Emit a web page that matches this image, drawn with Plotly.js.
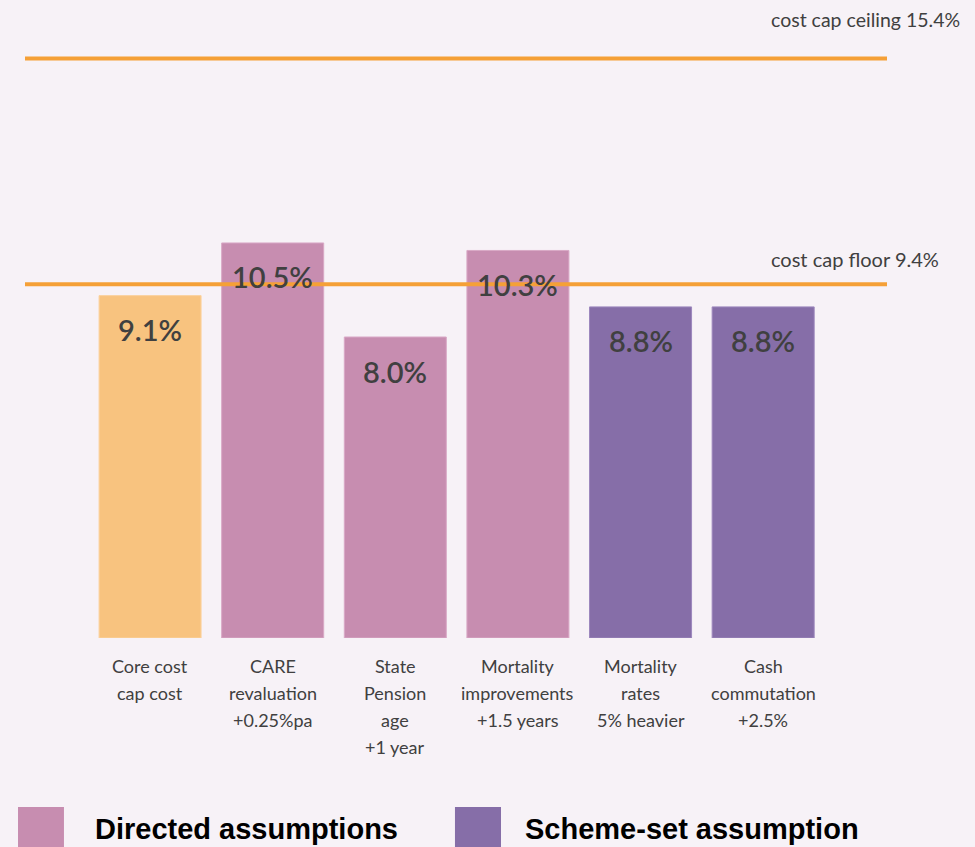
<!DOCTYPE html>
<html>
<head>
<meta charset="utf-8">
<script src="https://cdn.plot.ly/plotly-3.0.1.min.js"></script>
<style>html,body{margin:0;padding:0;background:#f7f2f7;}</style>
</head>
<body>
<div id="chart" style="width:975px;height:847px;"></div>
<script>
const categories = ["Core cost cap cost", "CARE revaluation +0.25%pa", "State Pension age +1 year", "Mortality improvements +1.5 years", "Mortality rates 5% heavier", "Cash commutation +2.5%"];
const tickLines = [["Core cost", "cap cost"], ["CARE", "revaluation", "+0.25%pa"], ["State", "Pension", "age", "+1 year"], ["Mortality", "improvements", "+1.5 years"], ["Mortality", "rates", "5% heavier"], ["Cash", "commutation", "+2.5%"]];
const values = [9.1, 10.5, 8.0, 10.3, 8.8, 8.8];
const valueLabels = ["9.1%", "10.5%", "8.0%", "10.3%", "8.8%", "8.8%"];
const groups = ["core", "directed", "directed", "directed", "scheme", "scheme"];
const thresholdValues = [15.4, 9.4];
const thresholdLabels = ["cost cap ceiling 15.4%", "cost cap floor 9.4%"];
const legendGroups = ["directed", "scheme"];
const legendLabels = ["Directed assumptions", "Scheme-set assumption"];

const groupColors = {core: "#f8c37f", directed: "#c78db0", scheme: "#866ea8"};
const groupLines = {core: "#fbd3a0", directed: "#d9a9c6", scheme: "#9d88bd"};

const trace = {
  type: "bar",
  x: categories,
  y: values,
  width: 0.832,
  marker: {
    color: groups.map(g => groupColors[g]),
    line: {color: groups.map(g => groupLines[g]), width: 1}
  },
  hoverinfo: "skip",
  showlegend: false
};

const annotations = [];
// value labels
categories.forEach((c, i) => {
  annotations.push({
    x: c, y: values[i], xref: "x", yref: "y",
    text: valueLabels[i], showarrow: false,
    yanchor: "middle", xanchor: "center", yshift: -34,
    font: {family: "Lato, 'Open Sans', sans-serif", size: 29, color: "#404040", weight: 600}
  });
});
// category labels (one annotation per line)
categories.forEach((c, i) => {
  tickLines[i].forEach((line, j) => {
    annotations.push({
      x: c, y: 0, xref: "x", yref: "y",
      text: line, showarrow: false,
      yanchor: "middle", xanchor: "center", yshift: -(28 + 27 * j),
      font: {family: "Lato, 'Open Sans', sans-serif", size: 18, color: "#404040"}
    });
  });
});
// threshold labels
const thrLabelX = [1.087, 1.0626];
const thrLabelShift = [39, 25];
const thrLabelSize = [19.5, 20];
thresholdValues.forEach((v, i) => {
  annotations.push({
    x: thrLabelX[i], y: v, xref: "paper", yref: "y",
    text: thresholdLabels[i], showarrow: false,
    xanchor: "right", yanchor: "middle", yshift: thrLabelShift[i],
    font: {family: "Lato, 'Open Sans', sans-serif", size: thrLabelSize[i], color: "#404040"}
  });
});
// legend labels
const legTextX = [0.0789, 0.5777];
legendLabels.forEach((t, i) => {
  annotations.push({
    x: legTextX[i], y: -0.3173, xref: "paper", yref: "paper",
    text: t, showarrow: false, xanchor: "left", yanchor: "middle",
    font: {family: "'Liberation Sans', Arial, sans-serif", size: 29, color: "#000000", weight: "bold"}
  });
});

const shapes = [];
thresholdValues.forEach(v => {
  shapes.push({
    type: "line", xref: "paper", yref: "y",
    x0: 0, x1: 1, y0: v, y1: v,
    line: {color: "#f5a037", width: 4},
    layer: "above"
  });
});
const legBoxX = [[-0.0081, 0.0452], [0.4988, 0.5522]];
legendGroups.forEach((g, i) => {
  shapes.push({
    type: "rect", xref: "paper", yref: "paper",
    x0: legBoxX[i][0], x1: legBoxX[i][1], y0: -0.2807, y1: -0.36,
    fillcolor: groupColors[g], line: {width: 0}
  });
});

const layout = {
  width: 975, height: 847,
  margin: {l: 25, r: 88, t: 36, b: 209},
  paper_bgcolor: "#f7f2f7",
  plot_bgcolor: "#f7f2f7",
  xaxis: {range: [-1.02, 6.01], showticklabels: false, showgrid: false, zeroline: false, showline: false, ticks: ""},
  yaxis: {range: [0, 16], showticklabels: false, showgrid: false, zeroline: false, showline: false, ticks: ""},
  shapes: shapes,
  annotations: annotations,
  showlegend: false
};

Plotly.newPlot("chart", [trace], layout, {displayModeBar: false, staticPlot: true});
</script>
</body>
</html>
